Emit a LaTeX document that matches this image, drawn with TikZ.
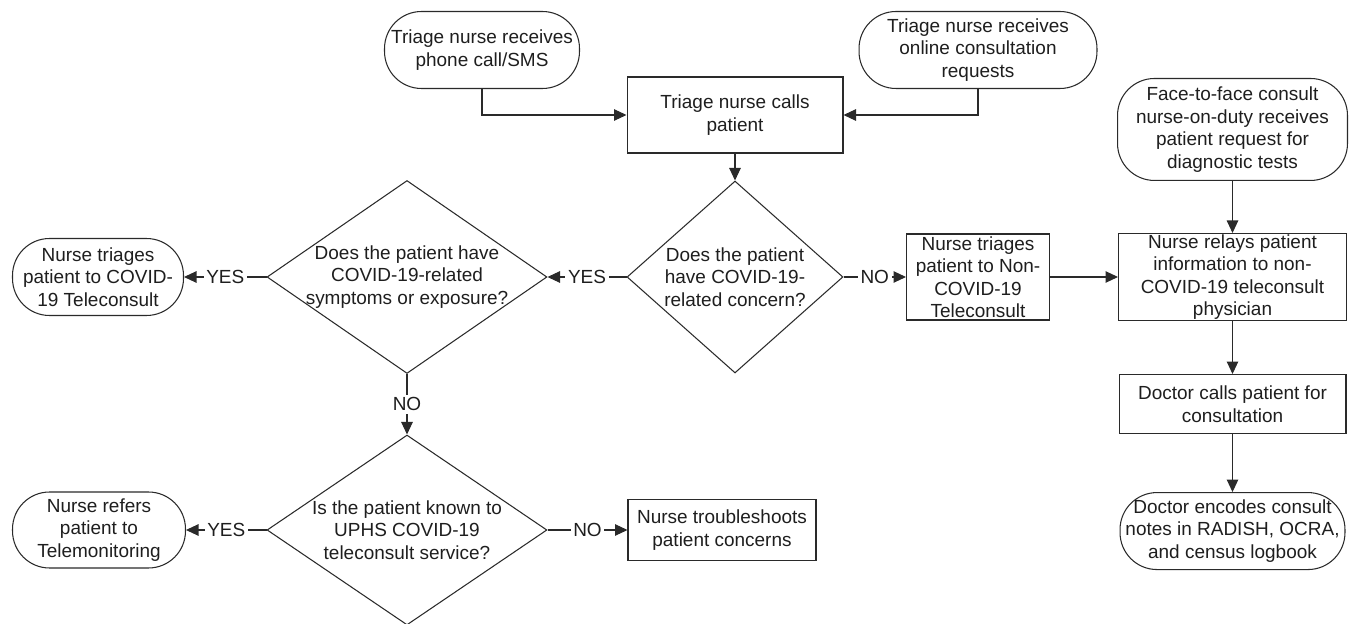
\documentclass[tikz,border=0pt]{standalone}
\usepackage{fontspec}
\setmainfont{Liberation Sans}
\usetikzlibrary{arrows.meta, positioning, shapes.geometric}
\definecolor{flowline}{HTML}{2A2A2A}
\definecolor{flowtext}{HTML}{1E1E1E}

\begin{document}
\begin{tikzpicture}[x=0.02cm, y=-0.02cm, >={Triangle[length=0.25cm,width=0.23cm]},
    every node/.style={font=\fontsize{10.8}{12.8}\selectfont, text=flowtext},
    terminal/.style={draw=flowline, line width=0.6pt, rounded corners=0.74cm, align=center, inner sep=0pt},
    procbox/.style={draw=flowline, line width=0.6pt, align=center, inner sep=0pt},
    decision/.style={diamond, draw=flowline, line width=0.6pt, inner sep=0pt},
    qtext/.style={align=center},
    flow/.style={->, draw=flowline, line width=0.6pt},
    answer/.style={fill=white, inner sep=1.5pt}]
  \useasboundingbox (0,0) rectangle (1349,624);

  \node[terminal, minimum width=3.9cm, minimum height=1.54cm] (phone) at (482,50)
    {Triage nurse receives\\phone call/SMS};
  \node[terminal, minimum width=4.76cm, minimum height=1.54cm] (online) at (978,50)
    {Triage nurse receives\\online consultation\\requests};
  \node[procbox, minimum width=4.32cm, minimum height=1.52cm] (calls) at (735,115)
    {Triage nurse calls\\patient};

  \node[decision, minimum width=4.32cm, minimum height=3.84cm] (concern) at (735,277) {};
  \node[qtext] (concerntxt) at (concern) {Does the patient\\have COVID-19-\\related concern?};
  \node[decision, minimum width=5.6cm, minimum height=3.86cm] (symptoms) at (407,277) {};
  \node[qtext] (symptomstxt) at (symptoms) {Does the patient have\\COVID-19-related\\symptoms or exposure?};
  \node[decision, minimum width=5.6cm, minimum height=3.8cm] (known) at (407,530) {};
  \node[qtext] (knowntxt) at (known) {Is the patient known to\\UPHS COVID-19\\teleconsult service?};

  \node[terminal, minimum width=3.42cm, minimum height=1.54cm] (tocovid) at (98,277)
    {Nurse triages\\patient to COVID-\\19 Teleconsult};
  \node[terminal, minimum width=3.46cm, minimum height=1.52cm] (telemon) at (99,530)
    {Nurse refers\\patient to\\Telemonitoring};
  \node[procbox, minimum width=3.76cm, minimum height=1.22cm] (trouble) at (722,530)
    {Nurse troubleshoots\\patient concerns};

  \node[procbox, minimum width=2.86cm, minimum height=1.72cm] (ntriage) at (978,277)
    {Nurse triages\\patient to Non-\\COVID-19\\Teleconsult};
  \node[procbox, minimum width=4.56cm, minimum height=1.74cm, right=1.36cm of ntriage] (relay)
    {Nurse relays patient\\information to non-\\COVID-19 teleconsult\\physician};
  \node[terminal, minimum width=4.6cm, minimum height=2.04cm, above=1.04cm of relay] (face)
    {Face-to-face consult\\nurse-on-duty receives\\patient request for\\diagnostic tests};
  \node[procbox, minimum width=4.54cm, minimum height=1.18cm, below=1.06cm of relay] (doccalls)
    {Doctor calls patient for\\consultation};
  \node[terminal, minimum width=4.5cm, minimum height=1.54cm, below=1.16cm of doccalls] (encode)
    {Doctor encodes consult\\notes in RADISH, OCRA,\\and census logbook};

  \draw[flow] (phone.south) |- (calls.west);
  \draw[flow] (online.south) |- (calls.east);
  \draw[flow] (calls.south) -- (concern.north);
  \draw[flow] (concern.west) -- node[answer] {YES} (symptoms.east);
  \draw[flow] (concern.east) -- node[answer] {NO} (ntriage.west);
  \draw[flow] (symptoms.west) -- node[answer] {YES} (tocovid.east);
  \draw[flow] (symptoms.south) -- node[answer] {NO} (known.north);
  \draw[flow] (known.west) -- node[answer] {YES} (telemon.east);
  \draw[flow] (known.east) -- node[answer] {NO} (trouble.west);
  \draw[flow] (ntriage.east) -- (relay.west);
  \draw[flow] (face.south) -- (relay.north);
  \draw[flow] (relay.south) -- (doccalls.north);
  \draw[flow] (doccalls.south) -- (encode.north);
\end{tikzpicture}
\end{document}
